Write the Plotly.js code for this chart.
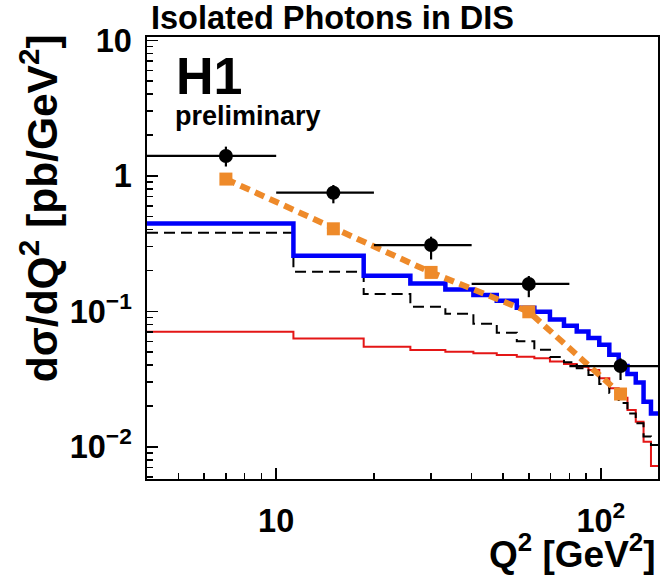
<!DOCTYPE html>
<html>
<head>
<meta charset="utf-8">
<script src="https://cdn.plot.ly/plotly-3.0.1.min.js"></script>
<style>html,body{margin:0;padding:0;background:#fff;}#chart{width:665px;height:575px;}</style>
</head>
<body>
<div id="chart"></div>
<script>
// Histogram bin edges (Q^2, GeV^2) for the theory curves
const binEdges = [4, 11.3, 18.6, 25.9, 33.2, 40.5, 47.8, 55.1, 62.4, 69.7, 77, 84.3, 91.6, 98.9, 106.2, 113.5, 120.8, 128.1, 135.4, 142.7, 150];
// Theory predictions per bin (pb/GeV^2)
const blueTotal = [0.445, 0.257, 0.183, 0.160, 0.145, 0.132, 0.1195, 0.106, 0.099, 0.087, 0.078, 0.071, 0.0635, 0.0565, 0.0478, 0.0395, 0.0345, 0.0298, 0.0215, 0.0176];
const dashedBlack = [0.38, 0.196, 0.134, 0.108, 0.096, 0.081, 0.0695, 0.060, 0.052, 0.046, 0.042, 0.038, 0.0338, 0.029, 0.0249, 0.021, 0.0176, 0.0149, 0.0119, 0.0103];
const redCurve = [0.0706, 0.063, 0.0547, 0.0517, 0.0502, 0.0489, 0.0475, 0.0462, 0.0449, 0.0425, 0.0408, 0.039, 0.0368, 0.032, 0.027, 0.023, 0.0187, 0.0153, 0.0109, 0.0072];

// Data points
const dataX = [7, 15, 30, 60, 115];
const dataXlo = [4, 10, 20, 40, 80];
const dataXhi = [10, 20, 40, 80, 150];
const dataY = [1.40, 0.75, 0.308, 0.159, 0.0394];
const dataErrUp = [0.24, 0.105, 0.047, 0.023, 0.0055];
const dataErrDown = [0.23, 0.124, 0.067, 0.032, 0.0083];

// Orange prediction at the data points
const orangeY = [0.945, 0.406, 0.1935, 0.0991, 0.0245];

const FONT = 'Liberation Sans, Arial, Helvetica, sans-serif';

function stepY(v) { return v.concat([v[v.length - 1]]); }

const traces = [
  { x: binEdges, y: stepY(redCurve), mode: 'lines', line: { shape: 'hv', color: 'rgb(228,22,22)', width: 2 }, hoverinfo: 'skip' },
  { x: binEdges, y: stepY(dashedBlack), mode: 'lines', line: { shape: 'hv', color: 'black', width: 2, dash: '11px,6px' }, hoverinfo: 'skip' },
  { x: binEdges, y: stepY(blueTotal), mode: 'lines', line: { shape: 'hv', color: 'rgb(0,0,250)', width: 4.5 }, hoverinfo: 'skip' },
  { x: dataX, y: orangeY, mode: 'lines+markers', line: { color: 'rgb(238,138,42)', width: 6, dash: '10px,6px' },
    marker: { symbol: 'square', size: 13, color: 'rgb(238,138,42)' } },
  { x: dataX, y: dataY, mode: 'markers', marker: { symbol: 'circle', size: 14, color: 'black' },
    error_y: { type: 'data', symmetric: false, array: dataErrUp, arrayminus: dataErrDown, width: 0, thickness: 2.2, color: 'black' },
    error_x: { type: 'data', symmetric: false, array: dataXhi.map((h, i) => h - dataX[i]), arrayminus: dataXlo.map((l, i) => dataX[i] - l), width: 0, thickness: 2.2, color: 'black' } }
];

const axisCommon = {
  type: 'log', showline: true, linecolor: 'black', linewidth: 2, mirror: true,
  ticks: 'inside', ticklen: 11, tickwidth: 1.5, tickcolor: 'black', dtick: 1,
  exponentformat: 'power', showgrid: false, zeroline: false,
  minor: { ticks: 'inside', ticklen: 6, tickwidth: 1.5, tickcolor: 'black', dtick: 'D1', showgrid: false }
};

const layout = {
  width: 665, height: 575,
  margin: { l: 147, r: 7, t: 37, b: 96 },
  paper_bgcolor: 'white', plot_bgcolor: 'white', showlegend: false,
  xaxis: Object.assign({}, axisCommon, {
    range: [Math.log10(4), Math.log10(150)],
    tickfont: { family: FONT, size: 26, color: 'black', weight: 'bold' },
    ticklabelstandoff: 13
  }),
  yaxis: Object.assign({}, axisCommon, {
    range: [-2.238, 1.024],
    tickfont: { family: FONT, size: 26, color: 'black', weight: 'bold' },
    ticklabelstandoff: 8
  }),
  annotations: [
    { text: 'Isolated Photons in DIS', xref: 'paper', yref: 'paper', x: 0.004, y: 1.043, xanchor: 'left', yanchor: 'middle', showarrow: false,
      font: { family: FONT, size: 32.5, color: 'black', weight: 'bold' } },
    { text: 'H1', xref: 'paper', yref: 'paper', x: 0.052, y: 0.912, xanchor: 'left', yanchor: 'middle', showarrow: false,
      font: { family: FONT, size: 52, color: 'black', weight: 'bold' } },
    { text: 'preliminary', xref: 'paper', yref: 'paper', x: 0.05, y: 0.822, xanchor: 'left', yanchor: 'middle', showarrow: false,
      font: { family: FONT, size: 27, color: 'black', weight: 'bold' } },
    { text: 'd\u03c3/dQ<sup>2</sup> [pb/GeV<sup>2</sup>]', xref: 'paper', yref: 'paper', x: -0.21, y: 0.612, xanchor: 'center', yanchor: 'middle',
      textangle: -90, showarrow: false, font: { family: FONT, size: 42.5, color: 'black', weight: 'bold' } },
    { text: 'Q<sup>2</sup> [GeV<sup>2</sup>]', xref: 'paper', yref: 'paper', x: 1.0, y: -0.163, xanchor: 'right', yanchor: 'middle',
      showarrow: false, font: { family: FONT, size: 37, color: 'black', weight: 'bold' } }
  ]
};

Plotly.newPlot('chart', traces, layout, { displayModeBar: false, staticPlot: true });
</script>
</body>
</html>
